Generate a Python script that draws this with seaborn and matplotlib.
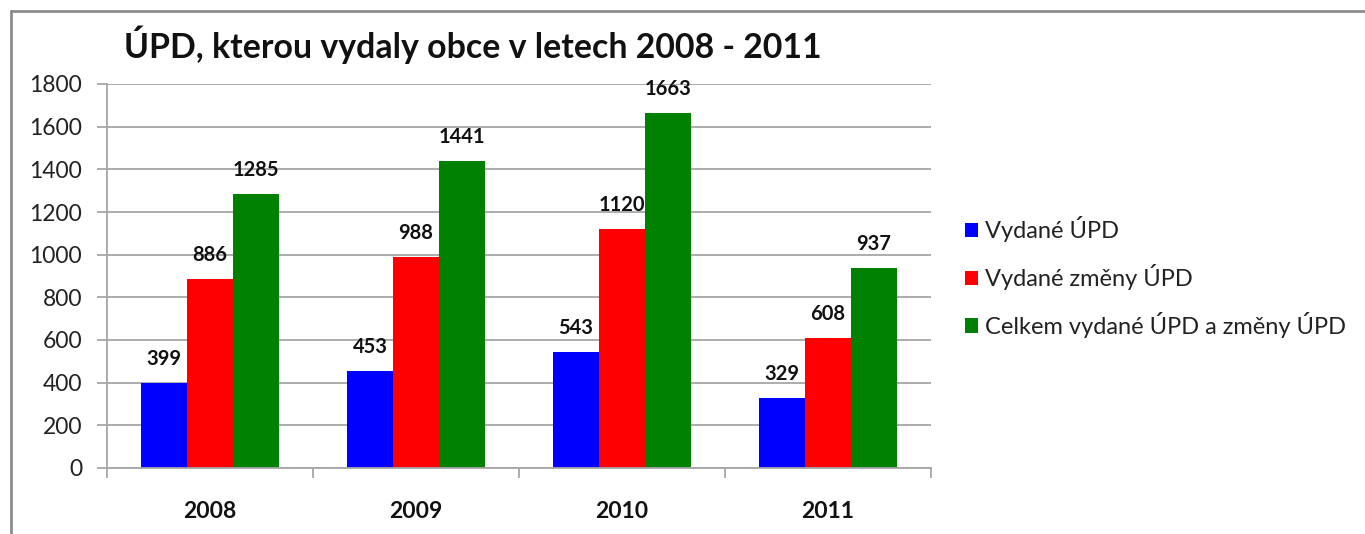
import matplotlib
matplotlib.use("Agg")
import matplotlib.pyplot as plt
import seaborn as sns
import pandas as pd
from matplotlib.patches import Patch
from matplotlib.lines import Line2D

years = ["2008", "2009", "2010", "2011"]
series_names = ["Vydané ÚPD", "Vydané změny ÚPD", "Celkem vydané ÚPD a změny ÚPD"]
vydane_upd = [399, 453, 543, 329]
vydane_zmeny = [886, 988, 1120, 608]
celkem = [1285, 1441, 1663, 937]
colors = ["#0000ff", "#ff0000", "#008000"]
title = "ÚPD, kterou vydaly obce v letech 2008 - 2011"

rows = []
for name, vals in zip(series_names, [vydane_upd, vydane_zmeny, celkem]):
    for y, v in zip(years, vals):
        rows.append({"Rok": y, "Série": name, "Hodnota": v})
df = pd.DataFrame(rows)

sns.set_theme(style="white")
plt.rcParams['font.family'] = ['Lato', 'DejaVu Sans']

W, H = 1365, 534
fig = plt.figure(figsize=(W / 100, H / 100), dpi=100)
ax = fig.add_axes([107 / W, 1 - 468 / H, (931 - 107) / W, (468 - 84) / H])

sns.barplot(data=df, x="Rok", y="Hodnota", hue="Série", hue_order=series_names,
            order=years, palette=colors, width=0.67, saturation=1.0,
            edgecolor="none", linewidth=0, ax=ax, legend=False, errorbar=None)

for cont in ax.containers:
    ax.bar_label(cont, padding=10, fontsize=14.5, fontweight="bold", color="#111111")

ax.set_ylim(0, 1800)
ax.set_xlim(-0.5, 3.5)
ax.set_yticks(range(0, 1801, 200))
ax.set_xlabel("")
ax.set_ylabel("")
ax.yaxis.grid(True, color="#a6a6a6", linewidth=1.3)
ax.set_axisbelow(True)
for s in ["top", "right"]:
    ax.spines[s].set_visible(False)
for s in ["left", "bottom"]:
    ax.spines[s].set_color("#a6a6a6")
    ax.spines[s].set_linewidth(1.3)

ax.tick_params(axis="y", which="major", length=7, width=1.3, color="#a6a6a6",
               direction="out", left=True, pad=11, labelsize=16.5, labelcolor="#222222")
ax.tick_params(axis="x", which="major", length=0, pad=24, labelsize=16.5, labelcolor="#111111")
for lbl in ax.get_xticklabels():
    lbl.set_fontweight("bold")
ax.set_xticks([-0.5, 0.5, 1.5, 2.5, 3.5], minor=True)
ax.tick_params(axis="x", which="minor", length=7, width=1.3, color="#a6a6a6",
               direction="out", bottom=True)

fig.text(124 / W, 1 - 45 / H, title, fontsize=24.4, fontweight="bold",
         ha="left", va="center", color="#111111")

handles = [Patch(facecolor=c, edgecolor="none") for c in colors]
fig.legend(handles, series_names, loc="center left",
           bbox_to_anchor=(944 / W, 1 - 277 / H), frameon=False,
           fontsize=17, handlelength=0.55, handleheight=0.55, handletextpad=0.3,
           labelspacing=0.93, labelcolor="#222222")

# outer chart border (left and top edges visible)
fig.add_artist(Line2D([11 / W, 11 / W], [0, 1 - 11 / H], transform=fig.transFigure,
                      color="#8c8c8c", linewidth=2))
fig.add_artist(Line2D([11 / W, 1], [1 - 11 / H, 1 - 11 / H], transform=fig.transFigure,
                      color="#8c8c8c", linewidth=2))

fig.savefig("out.png", dpi=100)
